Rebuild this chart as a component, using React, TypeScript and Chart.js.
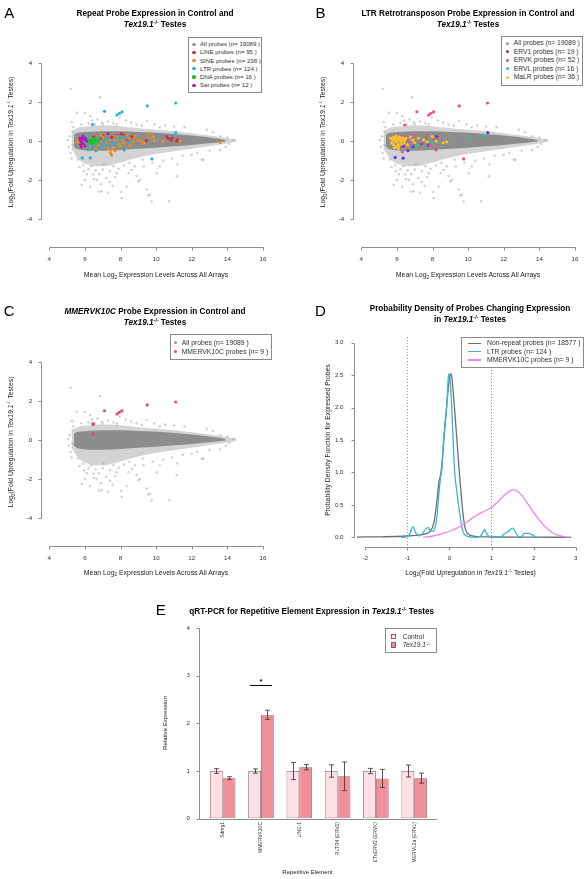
import React, { useEffect, useRef } from 'react';
import { Chart, registerables } from 'chart.js';

Chart.register(...registerables);

const FONT = '"Liberation Sans", Arial, Helvetica, sans-serif';
Chart.defaults.font.family = FONT;

type Pt = [number, number];

// ---------------- shared "All probes" cloud (panels A–C) ----------------
const allProbesN = 19089;
const cloudCoreX = [5.38, 5.5, 5.8, 6.3, 7.0, 8.0, 9.0, 10.0, 11.0, 12.0, 12.8, 13.4, 13.9];
const cloudCoreUpper = [0.3, 0.4, 0.44, 0.47, 0.5, 0.5, 0.46, 0.42, 0.36, 0.28, 0.2, 0.13, 0.05];
const cloudCoreLower = [-0.28, -0.38, -0.46, -0.5, -0.5, -0.46, -0.4, -0.34, -0.27, -0.2, -0.13, -0.08, -0.03];
const cloudHaloX = [5.25, 5.45, 5.8, 6.3, 6.8, 7.4, 8.0, 9.0, 10.0, 11.0, 12.0, 13.0, 13.8, 14.5];
const cloudHaloUpper = [0.4, 0.6, 0.72, 0.76, 0.8, 0.8, 0.76, 0.66, 0.58, 0.5, 0.4, 0.28, 0.18, 0.06];
const cloudHaloLower = [-0.4, -0.7, -1.05, -1.25, -1.3, -1.25, -1.1, -0.85, -0.66, -0.52, -0.4, -0.26, -0.15, -0.05];
const cloudOutliers: Pt[] = [
  [5.2, 2.68], [6.85, 2.25], [6.0, 1.43], [5.27, 0.97], [6.3, 1.27], [5.55, 1.45], [6.4, 1.05], [6.7, 1.1],
  [6.95, 0.95], [7.3, 1.0], [7.6, 0.9], [7.95, 1.2], [8.3, 1.05], [8.6, 0.95], [9.47, 1.02], [9.9, 0.85],
  [10.5, 0.8], [11.0, 0.75], [11.6, 0.7], [12.84, 0.58], [13.2, 0.45], [7.0, 0.85], [6.2, 0.9], [5.8, 0.85],
  [8.9, 0.85], [10.2, 0.7], [5.35, 0.7], [6.55, 0.85], [7.8, 0.85], [9.2, 0.78],
  [5.1, -0.3], [5.15, 0.25], [5.2, -0.62], [5.3, 0.5], [5.25, -0.9], [5.05, 0.05], [5.3, -0.2],
  [5.9, -1.22], [6.47, -1.72], [6.94, -2.58], [5.82, -2.24], [8.07, -2.92], [9.66, -2.75], [10.72, -3.09],
  [9.0, -2.07], [9.47, -2.49], [9.55, -2.8], [9.75, -3.1], [11.16, -1.81], [12.56, -0.95], [14.34, 0.07],
  [6.28, -2.34], [6.66, -2.0], [7.41, -2.09], [7.78, -1.66], [8.34, -2.34], [9.09, -2.0], [8.63, -1.49],
  [10.03, -1.66], [12.65, -0.97], [13.59, -0.46], [6.79, -2.6], [7.31, -2.65], [8.03, -2.6], [6.1, -1.7],
  [6.5, -1.95], [6.8, -1.7], [7.0, -1.45], [7.2, -1.9], [7.4, -1.55], [7.6, -1.3], [7.9, -1.42], [8.2, -1.25],
  [8.5, -1.12], [8.8, -1.3], [6.2, -1.45], [6.6, -1.5], [7.05, -1.2], [6.35, -1.3], [5.95, -1.55], [7.7, -1.85],
  [8.45, -1.65], [9.3, -1.3], [9.8, -1.1], [10.4, -1.0], [10.9, -0.9], [11.5, -0.75], [12.0, -0.7], [12.3, -0.6],
  [13.0, -0.5], [13.9, -0.3], [14.1, -0.15], [13.6, 0.25], [14.0, 0.18], [6.9, -2.2], [7.55, -2.3], [5.7, -1.35],
  [5.6, -0.95], [6.0, -2.0], [8.9, -1.8], [9.25, -0.95], [10.2, -1.3], [11.2, -1.2],
];

// ---------------- Panel A: repeat classes ----------------
const repeatClasses = ['LINE', 'SINE', 'LTR', 'DNA', 'Sat'];
const repeatCounts = [95, 238, 124, 16, 12];
const repeatColors = ['#d9263f', '#f28b1d', '#27b2d8', '#22c02a', '#b31ab8'];
const lineProbes: Pt[] = [
  [7.0, 0.27], [7.3, 0.38], [7.8, 0.3], [8.05, 0.36], [8.25, 0.3], [8.65, 0.22], [8.4, 0.09], [9.45, 0.02],
  [10.6, 0.22], [10.7, 0.12], [10.9, 0.16], [10.85, 0.05], [11.15, 0.0], [11.2, 0.06], [6.9, 0.15], [7.5, 0.2],
  [5.9, 0.12], [6.5, 0.2],
];
const sineProbes: Pt[] = [
  [5.54, -0.03], [5.72, -0.12], [5.91, -0.29], [6.66, 0.14], [6.75, -0.21], [6.94, -0.03], [7.22, -0.12],
  [7.41, 0.05], [7.5, -0.72], [7.43, -0.6], [7.69, 0.05], [8.44, 0.14], [8.53, -0.21], [8.81, 0.22], [9.0, 0.05],
  [9.56, 0.39], [9.66, 0.14], [9.84, 0.22], [10.4, -0.03], [11.34, 0.02], [13.6, -0.07], [6.1, 0.25], [6.3, -0.2],
  [6.4, 0.05], [6.9, 0.3], [7.1, -0.3], [7.6, -0.35], [7.9, -0.15], [8.1, 0.05], [8.2, -0.1], [8.7, -0.05],
  [9.2, 0.0], [9.3, -0.12], [9.9, 0.02], [10.1, 0.12], [5.8, 0.2], [6.2, -0.35], [7.3, -0.4], [7.7, -0.5],
  [8.0, -0.25], [6.6, -0.4], [5.65, 0.15], [7.0, 0.2], [7.8, 0.25], [8.35, 0.3],
];
const ltrProbes: Pt[] = [
  [7.1, 1.52], [7.8, 1.33], [7.94, 1.42], [8.08, 1.49], [9.5, 1.8], [11.1, 1.95], [6.43, 0.84], [11.1, 0.43],
  [9.76, -0.92], [5.85, -0.87], [6.3, -0.87], [6.62, -0.5], [8.2, -0.46], [5.8, 0.05], [5.95, -0.1], [6.05, 0.2],
  [6.15, -0.3], [6.25, 0.12], [6.4, -0.22], [6.5, 0.05], [6.6, -0.1], [6.75, 0.18], [6.85, -0.28], [7.0, 0.0],
  [7.15, -0.2], [7.3, 0.12], [7.55, -0.1], [7.78, -0.18], [8.0, 0.18], [8.25, 0.22], [8.45, -0.08], [10.05, 0.14],
  [10.9, 0.3], [6.2, -0.45], [7.1, -0.22], [6.0, 0.3], [7.9, 0.05],
];
const dnaProbes: Pt[] = [
  [6.15, 0.0], [6.25, 0.05], [6.3, -0.05], [6.4, 0.02], [6.45, 0.1], [6.5, -0.08], [6.6, 0.04], [6.7, -0.02],
  [6.35, -0.12], [6.55, 0.12], [6.8, 0.08], [6.2, -0.1],
];
const satProbes: Pt[] = [
  [5.7, 0.15], [5.75, 0.05], [5.8, -0.05], [5.85, 0.18], [5.9, -0.15], [5.95, 0.08], [6.0, -0.25], [6.05, 0.12],
  [5.8, -0.3], [6.1, 0.0], [5.75, -0.18], [5.9, 0.25],
];

// ---------------- Panel B: LTR families ----------------
const ltrFamilies = ['ERV1', 'ERVK', 'ERVL', 'MaLR'];
const ltrFamilyCounts = [19, 52, 16, 36];
const ltrFamilyColors = ['#5a36d6', '#ee4c8a', '#1fcf8f', '#fbc12e'];
const erv1Probes: Pt[] = [
  [5.9, -0.84], [6.35, -0.88], [6.62, -0.5], [6.36, -0.26], [7.4, -0.12], [7.76, -0.2], [8.23, 0.22], [11.1, 0.43],
  [6.0, -0.1], [6.2, -0.25], [6.5, 0.0], [6.9, -0.3], [6.1, 0.05], [7.0, -0.15],
];
const ervkProbes: Pt[] = [
  [7.12, 1.5], [7.78, 1.33], [7.9, 1.42], [8.06, 1.49], [9.5, 1.8], [11.09, 1.95], [6.44, 0.82], [9.75, -0.92],
  [8.2, -0.46], [6.45, 0.22], [6.6, 0.05], [6.8, 0.17], [6.5, -0.2], [7.65, 0.2], [8.0, 0.05], [8.5, -0.03],
  [6.3, -0.55], [7.85, -0.2], [6.2, 0.1], [6.7, -0.1], [7.2, 0.1], [7.4, -0.05], [5.9, 0.05], [6.1, -0.15],
  [7.0, 0.3], [8.3, 0.1],
];
const ervlProbes: Pt[] = [
  [7.1, -0.22], [10.05, 0.14], [10.9, 0.3], [7.95, -0.03], [7.6, 0.0], [6.5, -0.1], [6.8, 0.05], [7.3, 0.15],
  [8.4, -0.05],
];
const malrProbes: Pt[] = [
  [5.65, 0.15], [5.7, -0.1], [5.75, 0.05], [5.8, 0.2], [5.82, -0.2], [5.88, 0.1], [5.9, -0.05], [5.95, 0.25],
  [5.98, -0.3], [6.0, 0.0], [6.02, 0.15], [6.05, -0.15], [6.1, 0.08], [6.12, -0.25], [6.15, 0.2], [6.2, -0.05],
  [6.22, 0.1], [6.25, -0.18], [6.3, 0.02], [6.35, 0.15], [6.4, -0.1], [6.45, 0.05], [5.85, -0.35], [6.08, -0.38],
  [6.5, 0.12], [6.6, -0.2], [6.75, 0.2], [6.9, 0.05], [7.0, -0.1], [7.2, 0.15], [7.5, 0.05], [7.7, -0.05],
  [7.98, 0.22], [8.2, 0.0], [8.6, -0.09], [8.8, -0.05],
];

// ---------------- Panel C: MMERVK10C ----------------
const mmervkN = 9;
const mmervkColor = '#e8467e';
const mmervkProbes: Pt[] = [
  [6.45, 0.84], [6.47, 0.8], [6.45, 0.3], [7.1, 1.5], [7.8, 1.33], [7.93, 1.42], [8.07, 1.49], [9.5, 1.8], [11.1, 1.95],
];

// ---------------- Panel D: densities ----------------
const nonRepeatN = 18577;
const ltrN = 124;
const nonRepeatX = [-2.2, -1.6, -1.0, -0.8, -0.6, -0.5, -0.45, -0.4, -0.35, -0.3, -0.25, -0.2, -0.15, -0.1, -0.05, 0.0, 0.03, 0.06, 0.1, 0.14, 0.18, 0.22, 0.26, 0.3, 0.35, 0.4, 0.5, 0.7, 1.0, 2.0, 2.9];
const nonRepeatY = [0.004, 0.008, 0.02, 0.03, 0.05, 0.07, 0.1, 0.16, 0.3, 0.55, 0.85, 1.0, 1.35, 1.75, 2.15, 2.45, 2.52, 2.45, 2.15, 1.82, 1.48, 1.12, 0.8, 0.5, 0.22, 0.09, 0.03, 0.01, 0.005, 0.002, 0.0];
const ltrDensX = [-1.15, -1.0, -0.94, -0.87, -0.8, -0.72, -0.64, -0.56, -0.5, -0.45, -0.4, -0.34, -0.3, -0.26, -0.22, -0.18, -0.14, -0.1, -0.06, -0.03, -0.01, 0.02, 0.05, 0.08, 0.12, 0.16, 0.21, 0.26, 0.31, 0.36, 0.45, 0.6, 0.72, 0.78, 0.83, 0.88, 0.95, 1.05, 1.2, 1.3, 1.4, 1.5, 1.57, 1.64, 1.7, 1.78, 1.88, 1.96, 2.04, 2.1];
const ltrDensY = [0.0, 0.01, 0.06, 0.16, 0.07, 0.02, 0.06, 0.13, 0.15, 0.1, 0.09, 0.16, 0.3, 0.6, 0.88, 1.05, 1.5, 1.8, 2.05, 2.45, 2.52, 2.4, 2.05, 1.6, 1.05, 0.78, 0.53, 0.3, 0.11, 0.04, 0.01, 0.0, 0.01, 0.06, 0.12, 0.06, 0.01, 0.0, 0.0, 0.05, 0.09, 0.14, 0.08, 0.01, 0.01, 0.06, 0.06, 0.04, 0.01, 0.0];
const mmervkDensX = [-0.63, -0.4, -0.15, 0.1, 0.24, 0.45, 0.64, 0.85, 1.0, 1.15, 1.27, 1.4, 1.51, 1.62, 1.74, 1.9, 1.98, 2.1, 2.22, 2.35, 2.45, 2.6, 2.72, 2.85];
const mmervkDensY = [0.0, 0.02, 0.06, 0.12, 0.16, 0.25, 0.34, 0.41, 0.46, 0.55, 0.63, 0.7, 0.73, 0.71, 0.63, 0.48, 0.4, 0.3, 0.2, 0.12, 0.07, 0.03, 0.01, 0.0];
const cutoffs = [-1, 1];
const cutoffSpan = [-0.12, 3.12];

// ---------------- Panel E: qRT-PCR ----------------
const qCategories = ['Sdmg1', 'MMERVK10C', 'LINE-1', 'RLTR4 (ERV1)', 'ETnERV2 (ERVK)', 'MERVL2a (ERVL)'];
const ctrlMean = [1, 1, 1, 1, 1, 1];
const ctrlErr = [0.05, 0.045, 0.18, 0.13, 0.055, 0.125];
const texMean = [0.85, 2.18, 1.08, 0.89, 0.845, 0.85];
const texErr = [0.03, 0.095, 0.055, 0.3, 0.19, 0.105];
const sigCategory = 1;
const sigLineY = 2.81;

// ---------------- tick labels ----------------
const maXTicks = [4, 6, 8, 10, 12, 14, 16];
const maYTicks = [-4, -2, 0, 2, 4];
const dXTicks = [-2, -1, 0, 1, 2, 3];
const dYTicks = [0, 0.5, 1, 1.5, 2, 2.5, 3];
const qYTicks = [0, 1, 2, 3, 4];

// ---------------- styles ----------------
const AXIS_COL = '#8e8e8e';
const CORE_COL = '#8d8d8d';
const HALO_COL = 'rgba(150,150,150,0.42)';
const OUTLIER_COL = 'rgba(150,150,150,0.45)';
const ALL_COL = '#9a9a9a';
const D_COLORS = ['#6e6e6e', '#38b5d3', '#ee82ee'];
const CTRL_FILL = '#fddfe6';
const TEX_FILL = '#f0909a';
const BAR_EDGE = '#8a5c66';

// ---------------- helpers ----------------
function rangeFrom(p1: number, v1: number, p2: number, v2: number, pa: number, pb: number) {
  const k = (v2 - v1) / (p2 - p1);
  return [v1 + (pa - p1) * k, v1 + (pb - p1) * k];
}
const pts = (a: Pt[]) => a.map(([x, y]) => ({ x, y }));
const band = (xs: number[], ys: number[]) => xs.map((x, i) => ({ x, y: ys[i] }));

function linAxis(min: number, max: number, ticks: number[], pad: number, size: number, fit: (s: any) => void, fmt?: (v: number) => string) {
  return {
    type: 'linear',
    min,
    max,
    afterBuildTicks: (s: any) => {
      s.ticks = ticks.map((v) => ({ value: v }));
    },
    afterFit: fit,
    grid: { display: true, drawOnChartArea: false, drawTicks: false },
    border: { display: false },
    ticks: {
      padding: pad,
      color: '#333',
      font: { family: FONT, size },
      maxRotation: 0,
      minRotation: 0,
      autoSkip: false,
      callback: (v: any) => (fmt ? fmt(Number(v)) : String(v)),
    },
  };
}

function rAxes(spec: any) {
  return {
    id: 'rAxes',
    afterDraw(chart: any) {
      const { ctx, chartArea: ca } = chart;
      ctx.save();
      ctx.strokeStyle = AXIS_COL;
      ctx.lineWidth = 1;
      ctx.beginPath();
      if (spec.x) {
        const s = chart.scales.x;
        const o = spec.x;
        const y0 = Math.round(ca.bottom + (o.offset || 0)) + 0.5;
        const ps = s.ticks.map((_: any, i: number) => s.getPixelForTick(i));
        const a = o.from != null ? ca.left + o.from : Math.min(...ps);
        const b = o.to != null ? ca.right + o.to : Math.max(...ps);
        ctx.moveTo(Math.round(a) + 0.5, y0);
        ctx.lineTo(Math.round(b) + 0.5, y0);
        if (o.tick) {
          for (const p of ps) {
            const px = Math.round(p) + 0.5;
            ctx.moveTo(px, y0);
            ctx.lineTo(px, y0 + o.tick);
          }
        }
      }
      if (spec.y) {
        const s = chart.scales.y;
        const o = spec.y;
        const x0 = Math.round(ca.left + (o.offset || 0)) + 0.5;
        const ps = s.ticks.map((_: any, i: number) => s.getPixelForTick(i));
        ctx.moveTo(x0, Math.round(Math.min(...ps)) + 0.5);
        ctx.lineTo(x0, Math.round(Math.max(...ps)) + 0.5);
        if (o.tick) {
          for (const p of ps) {
            const py = Math.round(p) + 0.5;
            ctx.moveTo(x0, py);
            ctx.lineTo(x0 - o.tick, py);
          }
        }
      }
      ctx.stroke();
      ctx.restore();
    },
  };
}

// ---------------- MA scatter panels (A, B, C) ----------------
const MA = { H: 292, l: 41, t: 43, r: 271, b: 247 };
const [maXMin, maXMax] = rangeFrom(49.3, 4, 263, 16, MA.l, MA.r);
const [maYMin, maYMax] = rangeFrom(219, -4, 63, 4, MA.b, MA.t);

function maConfig(W: number, groups: { data: Pt[]; color: string }[]) {
  const fillLine = (data: any, fill: any, bg: string, order: number) => ({
    type: 'line',
    data,
    fill,
    backgroundColor: bg,
    borderColor: 'rgba(0,0,0,0)',
    borderWidth: 0,
    pointRadius: 0,
    cubicInterpolationMode: 'monotone',
    order,
  });
  const datasets: any[] = [
    fillLine(band(cloudHaloX, cloudHaloUpper), '+1', HALO_COL, 20),
    fillLine(band(cloudHaloX, cloudHaloLower), false, HALO_COL, 19),
    fillLine(band(cloudCoreX, cloudCoreUpper), '+1', CORE_COL, 18),
    fillLine(band(cloudCoreX, cloudCoreLower), false, CORE_COL, 17),
    {
      data: pts(cloudOutliers),
      backgroundColor: OUTLIER_COL,
      borderColor: 'rgba(0,0,0,0)',
      borderWidth: 0,
      pointRadius: 1.25,
      order: 16,
    },
    ...groups.map((g, i) => ({
      data: pts(g.data),
      backgroundColor: g.color,
      borderColor: 'rgba(0,0,0,0)',
      borderWidth: 0,
      pointRadius: 1.6,
      order: 10 - i,
    })),
  ];
  return {
    type: 'scatter',
    data: { datasets },
    options: {
      animation: false,
      responsive: false,
      events: [],
      layout: { padding: { left: 0, top: MA.t, right: W - MA.r, bottom: 0 } },
      plugins: { legend: { display: false }, tooltip: { enabled: false } },
      scales: {
        x: linAxis(maXMin, maXMax, maXTicks, 8.3, 6.2, (s: any) => { s.height = MA.H - MA.b; }),
        y: linAxis(maYMin, maYMax, maYTicks, 8.7, 6.2, (s: any) => { s.width = MA.l; }),
      },
    },
    plugins: [rAxes({ x: { tick: 3 }, y: { tick: 3 } })],
  };
}

// ---------------- Density panel (D) ----------------
const DG = { W: 275, H: 290, l: 42, t: 35, r: 272, b: 247.7 };
const [dXMin, dXMax] = rangeFrom(53.3, -2, 263.7, 3, DG.l, DG.r);
const [dYMin, dYMax] = rangeFrom(238.3, 0, 43.7, 3, DG.b, DG.t);

function densityConfig() {
  const curve = (xs: number[], ys: number[], color: string, order: number) => ({
    type: 'line',
    data: band(xs, ys),
    borderColor: color,
    borderWidth: 1.3,
    pointRadius: 0,
    fill: false,
    cubicInterpolationMode: 'monotone',
    order,
  });
  const datasets: any[] = [
    curve(nonRepeatX, nonRepeatY, D_COLORS[0], 3),
    curve(ltrDensX, ltrDensY, D_COLORS[1], 2),
    curve(mmervkDensX, mmervkDensY, D_COLORS[2], 1),
    ...cutoffs.map((c) => ({
      type: 'line',
      data: [{ x: c, y: cutoffSpan[0] }, { x: c, y: cutoffSpan[1] }],
      borderColor: '#7a7a7a',
      borderWidth: 0.8,
      borderDash: [1.2, 1.8],
      pointRadius: 0,
      fill: false,
      order: 5,
    })),
  ];
  return {
    type: 'scatter',
    data: { datasets },
    options: {
      animation: false,
      responsive: false,
      events: [],
      layout: { padding: { left: 0, top: DG.t, right: DG.W - DG.r, bottom: 0 } },
      plugins: { legend: { display: false }, tooltip: { enabled: false } },
      scales: {
        x: linAxis(dXMin, dXMax, dXTicks, 7.5, 6.2, (s: any) => { s.height = DG.H - DG.b; }),
        y: linAxis(dYMin, dYMax, dYTicks, 10.5, 6.2, (s: any) => { s.width = DG.l; }, (v) => v.toFixed(1)),
      },
    },
    plugins: [rAxes({ x: { tick: 3 }, y: { tick: 3 } })],
  };
}

// ---------------- qRT-PCR panel (E) ----------------
const QG = { W: 300, H: 279, l: 53.55, t: 28, r: 283.35, b: 218.7 };

const errBarsPlugin = {
  id: 'errBars',
  afterDatasetsDraw(chart: any) {
    const { ctx } = chart;
    const ys = chart.scales.y;
    const errs = [ctrlErr, texErr];
    const means = [ctrlMean, texMean];
    ctx.save();
    ctx.strokeStyle = '#4a3a3d';
    ctx.lineWidth = 0.9;
    ctx.beginPath();
    for (let d = 0; d < 2; d++) {
      const meta = chart.getDatasetMeta(d);
      meta.data.forEach((bar: any, j: number) => {
        const x = Math.round(bar.x) + 0.5;
        const top = ys.getPixelForValue(means[d][j] + errs[d][j]);
        const bot = ys.getPixelForValue(means[d][j] - errs[d][j]);
        ctx.moveTo(x, top);
        ctx.lineTo(x, bot);
        ctx.moveTo(x - 2.4, top);
        ctx.lineTo(x + 2.4, top);
        ctx.moveTo(x - 2.4, bot);
        ctx.lineTo(x + 2.4, bot);
      });
    }
    ctx.stroke();
    // significance bar
    const b0 = chart.getDatasetMeta(0).data[sigCategory];
    const b1 = chart.getDatasetMeta(1).data[sigCategory];
    const yl = Math.round(ys.getPixelForValue(sigLineY)) + 0.5;
    ctx.strokeStyle = '#111';
    ctx.lineWidth = 1.1;
    ctx.beginPath();
    ctx.moveTo(b0.x - b0.width * 0.36, yl);
    ctx.lineTo(b1.x + b1.width * 0.36, yl);
    ctx.stroke();
    ctx.fillStyle = '#111';
    ctx.font = `bold 8px ${FONT}`;
    ctx.textAlign = 'center';
    ctx.textBaseline = 'alphabetic';
    ctx.fillText('*', (b0.x + b1.x) / 2, yl - 1.5);
    ctx.restore();
  },
};

function qpcrConfig() {
  const barDs = (label: string, data: number[], fill: string) => ({
    label,
    data,
    backgroundColor: fill,
    borderColor: BAR_EDGE,
    borderWidth: 0.8,
    borderSkipped: false,
    categoryPercentage: 2 / 3,
    barPercentage: 1,
  });
  return {
    type: 'bar',
    data: {
      labels: qCategories,
      datasets: [barDs('Control', ctrlMean, CTRL_FILL), barDs('Tex19.1-/-', texMean, TEX_FILL)],
    },
    options: {
      animation: false,
      responsive: false,
      events: [],
      layout: { padding: { left: 0, top: QG.t, right: QG.W - QG.r, bottom: 0 } },
      plugins: { legend: { display: false }, tooltip: { enabled: false } },
      scales: {
        x: {
          type: 'category',
          offset: true,
          afterFit: (s: any) => { s.height = QG.H - QG.b; },
          grid: { display: true, drawOnChartArea: false, drawTicks: false },
          border: { display: false },
          ticks: { padding: 3.3, color: '#333', font: { family: FONT, size: 5 }, minRotation: 90, maxRotation: 90, autoSkip: false },
        },
        y: linAxis(0, 4, qYTicks, 13.5, 6.2, (s: any) => { s.width = QG.l; }),
      },
    },
    plugins: [rAxes({ x: { from: -5.5, to: 3.7 }, y: { offset: -5, tick: 3 } }), errBarsPlugin],
  };
}

// ---------------- React pieces ----------------
function ChartBox({ left, top, width, height, make }: any) {
  const ref = useRef<HTMLCanvasElement>(null);
  useEffect(() => {
    const chart = new Chart(ref.current as HTMLCanvasElement, make());
    return () => chart.destroy();
  }, []);
  return <canvas ref={ref} width={width} height={height} style={{ position: 'absolute', left, top, width, height }} />;
}

function Txt({ x, y, size, bold, rot, color = '#222', children }: any) {
  return (
    <div
      style={{
        position: 'absolute',
        left: x,
        top: y,
        transform: `translate(-50%, -50%)${rot ? ' rotate(-90deg)' : ''}`,
        fontSize: size,
        fontWeight: bold ? 700 : 400,
        lineHeight: 1,
        whiteSpace: 'nowrap',
        color,
        fontFamily: FONT,
      }}
    >
      {children}
    </div>
  );
}

const Sup = ({ children }: any) => (
  <span style={{ fontSize: '0.62em', position: 'relative', top: '-0.6em', marginLeft: '0.05em' }}>{children}</span>
);
const Sub = ({ children }: any) => (
  <span style={{ fontSize: '0.68em', position: 'relative', top: '0.35em' }}>{children}</span>
);
const Tex = () => (
  <>
    <i>Tex19.1</i>
    <Sup>-/-</Sup>
  </>
);

function LegendBox({ x, y, w, h, size, first, step, symX, textX, items }: any) {
  return (
    <div
      style={{
        position: 'absolute',
        left: x,
        top: y,
        width: w,
        height: h,
        border: '1px solid #8a8a8a',
        boxSizing: 'border-box',
        background: '#fff',
        fontFamily: FONT,
      }}
    >
      {items.map((it: any, i: number) => {
        const cy = first + i * step - 1;
        return (
          <React.Fragment key={i}>
            {it.kind === 'dot' && (
              <div style={{ position: 'absolute', left: symX - 2.6, top: cy - 1.6, width: 3.2, height: 3.2, borderRadius: '50%', background: it.color }} />
            )}
            {it.kind === 'line' && (
              <div style={{ position: 'absolute', left: symX - 1, top: cy - 0.65, width: it.len, height: 1.3, background: it.color }} />
            )}
            {it.kind === 'box' && (
              <div style={{ position: 'absolute', left: symX - 1, top: cy - 2.7, width: 5.4, height: 5.4, background: it.color, border: `0.8px solid ${BAR_EDGE}`, boxSizing: 'border-box' }} />
            )}
            <div style={{ position: 'absolute', left: textX - 1, top: cy, transform: 'translateY(-50%)', fontSize: size, lineHeight: 1, whiteSpace: 'nowrap', color: '#333' }}>
              {it.label}
            </div>
          </React.Fragment>
        );
      })}
    </div>
  );
}

const probeLabel = (name: string, n: number) => `${name} probes (n= ${n} )`;

const panelAGroups = [lineProbes, sineProbes, ltrProbes, dnaProbes, satProbes].map((d, i) => ({ data: d, color: repeatColors[i] }));
const panelBGroups = [erv1Probes, ervkProbes, ervlProbes, malrProbes].map((d, i) => ({ data: d, color: ltrFamilyColors[i] }));
const panelCGroups = [{ data: mmervkProbes, color: mmervkColor }];

const legendA = [
  { kind: 'dot', color: ALL_COL, label: probeLabel('All', allProbesN) },
  ...repeatClasses.map((c, i) => ({ kind: 'dot', color: repeatColors[i], label: probeLabel(c, repeatCounts[i]) })),
];
const legendB = [
  { kind: 'dot', color: ALL_COL, label: probeLabel('All', allProbesN) },
  ...ltrFamilies.map((c, i) => ({ kind: 'dot', color: ltrFamilyColors[i], label: probeLabel(c, ltrFamilyCounts[i]) })),
];
const legendC = [
  { kind: 'dot', color: ALL_COL, label: probeLabel('All', allProbesN) },
  { kind: 'dot', color: mmervkColor, label: probeLabel('MMERVK10C', mmervkN) },
];
const legendD = [
  { kind: 'line', len: 13.3, color: D_COLORS[0], label: probeLabel('Non-repeat', nonRepeatN) },
  { kind: 'line', len: 13.3, color: D_COLORS[1], label: probeLabel('LTR', ltrN) },
  { kind: 'line', len: 13.3, color: D_COLORS[2], label: probeLabel('MMERVK10C', mmervkN) },
];
const legendE = [
  { kind: 'box', color: CTRL_FILL, label: 'Control' },
  { kind: 'box', color: TEX_FILL, label: <Tex /> },
];

const maXTitle = (
  <>
    Mean Log<Sub>2</Sub> Expression Levels Across All Arrays
  </>
);
const foldTitle = (
  <>
    Log<Sub>2</Sub>(Fold Upregulation in <Tex /> Testes)
  </>
);

export default function App() {
  return (
    <div style={{ position: 'absolute', left: 0, top: 0, width: 587, height: 879, background: '#fff', overflow: 'hidden', fontFamily: FONT }}>
      <ChartBox left={0} top={0} width={293} height={MA.H} make={() => maConfig(293, panelAGroups)} />
      <ChartBox left={312} top={0} width={275} height={MA.H} make={() => maConfig(275, panelBGroups)} />
      <ChartBox left={0} top={299} width={293} height={MA.H} make={() => maConfig(293, panelCGroups)} />
      <ChartBox left={312} top={299} width={DG.W} height={DG.H} make={densityConfig} />
      <ChartBox left={150} top={600} width={QG.W} height={QG.H} make={qpcrConfig} />

      {/* Panel A */}
      <Txt x={9.2} y={12.3} size={15} color="#000">A</Txt>
      <Txt x={155} y={14} size={8.2} bold color="#000">Repeat Probe Expression in Control and</Txt>
      <Txt x={155} y={25.3} size={8.2} bold color="#000"><Tex /> Testes</Txt>
      <Txt x={156} y={275} size={6.9}>{maXTitle}</Txt>
      <Txt x={10.7} y={141.7} size={6.8} rot>{foldTitle}</Txt>
      <LegendBox x={188.3} y={37.3} w={74} h={56} size={6.1} first={7} step={8.2} symX={5.7} textX={11.7} items={legendA} />

      {/* Panel B */}
      <Txt x={320.5} y={12.3} size={15} color="#000">B</Txt>
      <Txt x={468} y={14} size={8.2} bold color="#000">LTR Retrotransposon Probe Expression in Control and</Txt>
      <Txt x={468} y={25.3} size={8.2} bold color="#000"><Tex /> Testes</Txt>
      <Txt x={468} y={275} size={6.9}>{maXTitle}</Txt>
      <Txt x={323} y={141.7} size={6.8} rot>{foldTitle}</Txt>
      <LegendBox x={501.3} y={36} w={81.7} h={49.7} size={6.7} first={7.3} step={8.5} symX={6} textX={12.5} items={legendB} />

      {/* Panel C */}
      <Txt x={9.2} y={310.3} size={15} color="#000">C</Txt>
      <Txt x={155} y={311.7} size={8.2} bold color="#000"><i>MMERVK10C</i> Probe Expression in Control and</Txt>
      <Txt x={155} y={323.3} size={8.2} bold color="#000"><Tex /> Testes</Txt>
      <Txt x={156} y={572.7} size={6.9}>{maXTitle}</Txt>
      <Txt x={10.7} y={441.7} size={6.8} rot>{foldTitle}</Txt>
      <LegendBox x={170} y={334.3} w={101.7} h={25.7} size={6.8} first={8.4} step={9} symX={5.7} textX={11.7} items={legendC} />

      {/* Panel D */}
      <Txt x={320.5} y={310.3} size={15} color="#000">D</Txt>
      <Txt x={470} y={309.3} size={8.2} bold color="#000">Probability Density of Probes Changing Expression</Txt>
      <Txt x={470} y={319.8} size={8.2} bold color="#000">in <Tex /> Testes</Txt>
      <Txt x={470.5} y={572.7} size={6.8}>{foldTitle}</Txt>
      <Txt x={328} y={440} size={6.8} rot>Probability Density Function for Expressed Probes</Txt>
      <LegendBox x={461} y={337.3} w={123} h={30.4} size={6.8} first={6} step={8.35} symX={7} textX={26} items={legendD} />

      {/* Panel E */}
      <Txt x={160.8} y={608.8} size={15} color="#000">E</Txt>
      <Txt x={311.7} y={612.3} size={8.2} bold color="#000">qRT-PCR for Repetitive Element Expression in <Tex /> Testes</Txt>
      <Txt x={307.5} y={871.7} size={6}>Repetitive Element</Txt>
      <Txt x={165} y={723.3} size={6.1} rot>Relative Expression</Txt>
      <LegendBox x={385} y={628.3} w={51.7} h={25} size={6.6} first={8.4} step={8.3} symX={5.7} textX={17.7} items={legendE} />
    </div>
  );
}
